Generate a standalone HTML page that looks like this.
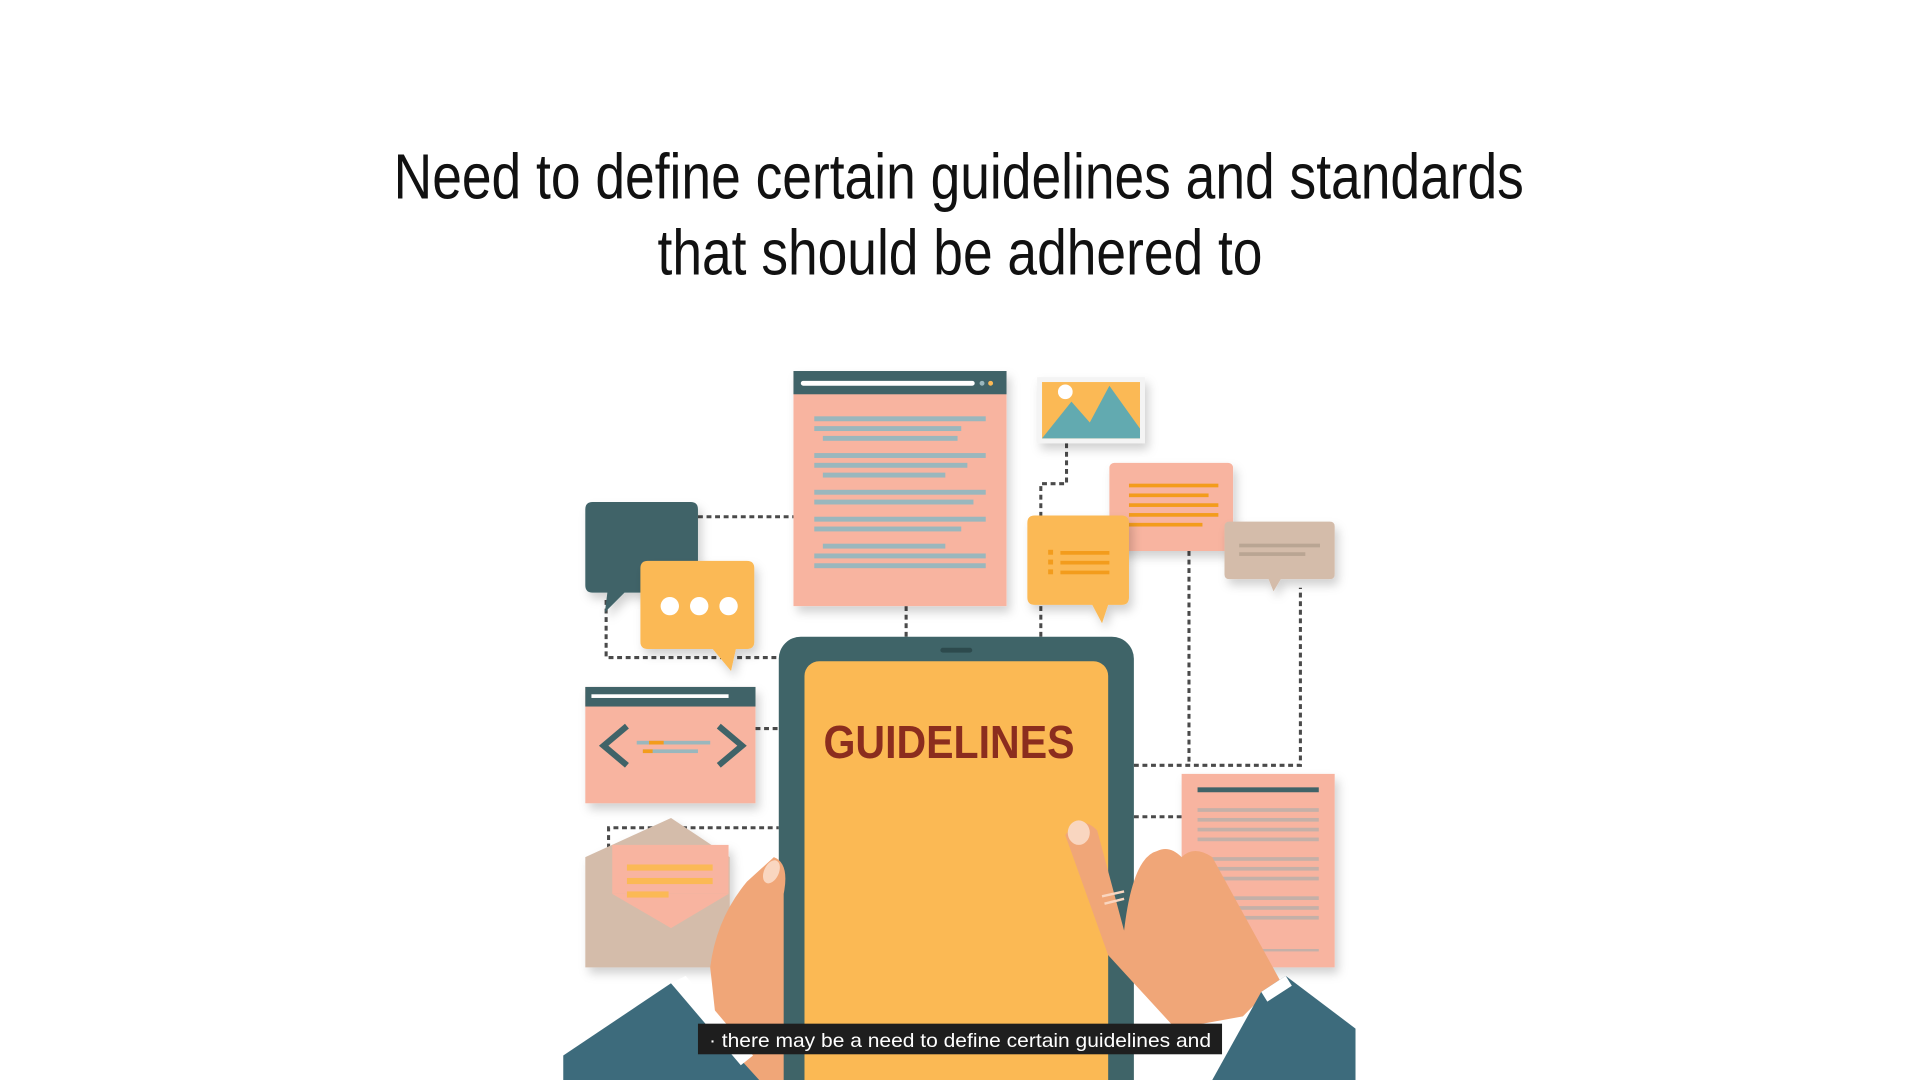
<!DOCTYPE html>
<html><head><meta charset="utf-8"><style>
html,body{margin:0;padding:0;background:#fff;width:1920px;height:1080px;overflow:hidden}
svg{display:block}
text{font-family:"Liberation Sans Narrow","Liberation Sans",sans-serif}
</style></head><body>
<svg width="1920" height="1080" viewBox="0 0 1568 882" xmlns="http://www.w3.org/2000/svg">
<defs><filter id="sh" x="-20%" y="-20%" width="150%" height="150%"><feDropShadow dx="3" dy="5" stdDeviation="4" flood-color="#000" flood-opacity="0.18"/></filter></defs>
<rect width="1568" height="882" fill="#fff"/>
<g fill="#111">
<text x="783" y="162" font-size="52" text-anchor="middle" textLength="923" lengthAdjust="spacingAndGlyphs">Need to define certain guidelines and standards</text>
<text x="784" y="224" font-size="52" text-anchor="middle" textLength="494" lengthAdjust="spacingAndGlyphs">that should be adhered to</text>
</g>
<g stroke="#4a4a4a" stroke-width="2.5" stroke-dasharray="4 3" fill="none">
<path d="M570 422H648"/><path d="M495 490V537H636"/><path d="M740 495V520"/><path d="M850 495V520"/>
<path d="M871 362V395H850V422"/><path d="M971 450V625"/><path d="M926 625H1062V480"/>
<path d="M617 595H636"/><path d="M497 700V676H636"/><path d="M926 667H966"/>
</g>
<g filter="url(#sh)">
<rect x="648" y="303" width="174" height="192" fill="#f8b4a0"/>
<rect x="648" y="303" width="174" height="19" fill="#3f6468"/>
<rect x="654" y="311" width="142" height="4" rx="2" fill="#fff"/>
<circle cx="802" cy="313" r="2" fill="#9ab7bd"/><circle cx="809" cy="313" r="2" fill="#fbb954"/>
<g fill="#9ab7bd">
<rect x="665" y="340" width="140" height="4"/><rect x="665" y="348" width="120" height="4"/><rect x="672" y="356" width="110" height="4"/>
<rect x="665" y="370" width="140" height="4"/><rect x="665" y="378" width="125" height="4"/><rect x="672" y="386" width="100" height="4"/>
<rect x="665" y="400" width="140" height="4"/><rect x="665" y="408" width="130" height="4"/>
<rect x="665" y="422" width="140" height="4"/><rect x="665" y="430" width="120" height="4"/>
<rect x="672" y="444" width="100" height="4"/><rect x="665" y="452" width="140" height="4"/><rect x="665" y="460" width="140" height="4"/>
</g></g>
<g filter="url(#sh)">
<rect x="847" y="308" width="88" height="54" fill="#f4f4f4"/>
<rect x="851" y="312" width="80" height="46" fill="#fbb954"/>
<path d="M851 358L875 328L890 345L906 315L931 350V358Z" fill="#62aab0"/>
<circle cx="870" cy="320" r="6" fill="#fff"/>
</g>
<g filter="url(#sh)">
<rect x="906" y="378" width="101" height="72" rx="4" fill="#f8b4a0"/>
<g fill="#f39c1d"><rect x="922" y="395" width="73" height="3"/><rect x="922" y="403" width="65" height="3"/><rect x="922" y="411" width="73" height="3"/><rect x="922" y="419" width="73" height="3"/><rect x="922" y="427" width="60" height="3"/></g>
</g>
<g filter="url(#sh)">
<path d="M845 421H916Q922 421 922 427V488Q922 494 916 494H905L900 509L892 494H845Q839 494 839 488V427Q839 421 845 421Z" fill="#fbb954"/>
<g fill="#f39c1d"><rect x="856" y="449" width="4" height="4"/><rect x="866" y="450" width="40" height="3"/><rect x="856" y="457" width="4" height="4"/><rect x="866" y="458" width="40" height="3"/><rect x="856" y="465" width="4" height="4"/><rect x="866" y="466" width="40" height="3"/></g>
</g>
<g filter="url(#sh)">
<path d="M1004 426H1086Q1090 426 1090 430V469Q1090 473 1086 473H1046L1040 483L1036 473H1004Q1000 473 1000 469V430Q1000 426 1004 426Z" fill="#d4bcaa"/>
<rect x="1012" y="444" width="66" height="3" fill="#b9a593"/><rect x="1012" y="451" width="54" height="3" fill="#b9a593"/>
</g>
<g filter="url(#sh)">
<path d="M484 410H564Q570 410 570 416V478Q570 484 564 484H510L494 500L496 484H484Q478 484 478 478V416Q478 410 484 410Z" fill="#3f6468"/>
</g>
<g filter="url(#sh)">
<path d="M529 458H610Q616 458 616 464V524Q616 530 610 530H601L597 548L582 530H529Q523 530 523 524V464Q523 458 529 458Z" fill="#fbb954"/>
<circle cx="547" cy="495" r="7.5" fill="#fff"/><circle cx="571" cy="495" r="7.5" fill="#fff"/><circle cx="595" cy="495" r="7.5" fill="#fff"/>
</g>
<g filter="url(#sh)">
<rect x="478" y="561" width="139" height="95" fill="#f8b4a0"/>
<rect x="478" y="561" width="139" height="16" fill="#3f6468"/>
<rect x="483" y="567" width="112" height="3" fill="#fff"/>
<path d="M512 593L493 609L512 625" stroke="#3f6468" stroke-width="5" fill="none"/>
<path d="M587 593L606 609L587 625" stroke="#3f6468" stroke-width="5" fill="none"/>
<rect x="520" y="605" width="60" height="3" fill="#9ab7bd"/><rect x="530" y="605" width="12" height="3" fill="#f39c1d"/><rect x="525" y="612" width="45" height="3" fill="#9ab7bd"/><rect x="525" y="612" width="8" height="3" fill="#f39c1d"/>
</g>
<g filter="url(#sh)">
<path d="M478 700L548 668L596 700V790H478Z" fill="#d4bcaa"/>
<rect x="500" y="690" width="95" height="40" fill="#f8b4a0"/>
<path d="M500 730H595L548 758Z" fill="#f8b4a0"/>
<g fill="#fbb954"><rect x="512" y="706" width="70" height="5"/><rect x="512" y="717" width="70" height="5"/><rect x="512" y="728" width="34" height="5"/></g>
</g>
<g filter="url(#sh)">
<rect x="965" y="632" width="125" height="158" fill="#f8b4a0"/>
<rect x="978" y="643" width="99" height="4" fill="#3f6468"/>
<g fill="#c4b0a8"><rect x="978" y="660" width="99" height="3"/><rect x="978" y="668" width="99" height="3"/><rect x="978" y="676" width="99" height="3"/><rect x="978" y="684" width="99" height="3"/><rect x="978" y="700" width="99" height="3"/><rect x="978" y="708" width="99" height="3"/><rect x="978" y="716" width="99" height="3"/><rect x="978" y="732" width="99" height="3"/><rect x="978" y="740" width="99" height="3"/><rect x="978" y="748" width="99" height="3"/><rect x="978" y="775" width="99" height="2"/></g>
</g>
<g>
<rect x="636" y="520" width="290" height="380" rx="18" fill="#3f6468"/>
<rect x="768" y="529" width="26" height="4" rx="2" fill="#2d4a4d"/>
<rect x="657" y="540" width="248" height="360" rx="12" fill="#fbb954"/>
<text x="775" y="619" font-family="Liberation Sans, sans-serif" font-weight="bold" font-size="38" fill="#8b2d1e" text-anchor="middle" textLength="205" lengthAdjust="spacingAndGlyphs" style="font-family:'Liberation Sans',sans-serif">GUIDELINES</text>
</g>
<g>
<path d="M590 882L580 790Q585 750 610 720L632 700Q645 705 640 730L640 882Z" fill="#f0a678"/>
<ellipse cx="630" cy="712" rx="6" ry="10" fill="#f9d6c0" transform="rotate(25 630 712)"/>
<path d="M460 882V862L548 803L600 860L620 882Z" fill="#3d6b7c"/>
<path d="M548 803L560 797L615 862L605 870Z" fill="#fff"/>
</g>
<g>
<path d="M870 682Q882 664 896 678L918 760Q925 700 945 695Q955 690 965 700Q975 690 990 700L1045 800L1015 830L960 840L905 780Z" fill="#f0a678"/>
<ellipse cx="881" cy="680" rx="9" ry="10" fill="#f9d6c0"/>
<path d="M900 732L918 728M902 738L918 734" stroke="#f9d6c0" stroke-width="2"/>
<path d="M990 882L1030 810L1050 797L1107 840V882Z" fill="#3d6b7c"/>
<path d="M1030 810L1050 797L1055 805L1035 818Z" fill="#fff"/>
</g>
<g>
<rect x="570" y="836" width="428" height="25" fill="#1e1e1e"/>
<text x="784" y="855" font-size="16" fill="#fff" text-anchor="middle" style="font-family:'Liberation Sans',sans-serif" textLength="410" lengthAdjust="spacingAndGlyphs">· there may be a need to define certain guidelines and</text>
</g>
</svg>
</body></html>
